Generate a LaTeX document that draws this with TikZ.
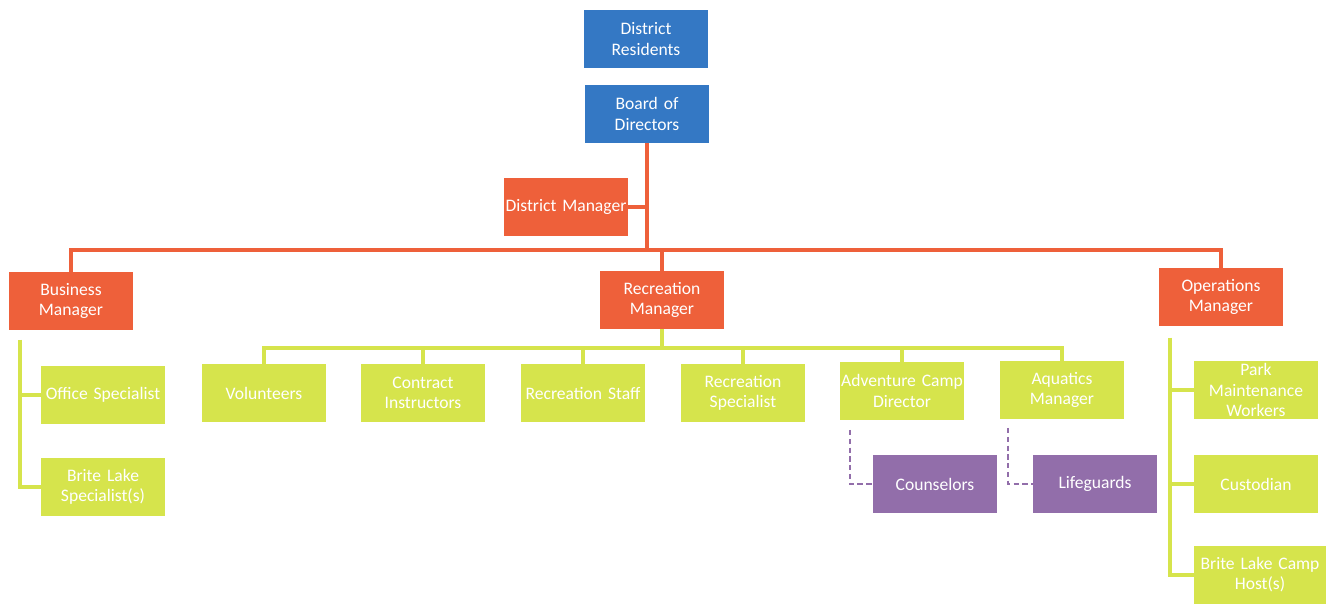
\documentclass[tikz,border=0pt]{standalone}
\usepackage{fontspec}
\setmainfont{Carlito}
\usepackage{tikz}
\usetikzlibrary{calc}
\definecolor{boardblue}{RGB}{52,120,196}
\definecolor{mgrred}{RGB}{238,96,58}
\definecolor{staffgreen}{RGB}{214,228,76}
\definecolor{subpurple}{RGB}{146,110,170}
\tikzset{
  unit/.style={draw=none, inner sep=0pt, minimum width=2.48cm, minimum height=1.16cm,
    text width=2.46cm, align=center, text=white, font=\fontsize{10}{11.5}\selectfont},
  bluebox/.style={unit, fill=boardblue},
  redbox/.style={unit, fill=mgrred},
  greenbox/.style={unit, fill=staffgreen},
  purplebox/.style={unit, fill=subpurple},
  redline/.style={draw=mgrred, line width=2pt},
  greenline/.style={draw=staffgreen, line width=2pt},
  purpleline/.style={draw=subpurple, line width=1.2pt, densely dashed}
}
\begin{document}
\begin{tikzpicture}[x=0.02cm, y=-0.02cm]
        \useasboundingbox (0,0) rectangle (1330,604);

        % top
        \node[bluebox] (residents) at (646,39) {District\\Residents};
        \node[bluebox] (board) at (647,114) {Board of\\Directors};
        \node[redbox] (dmanager) at (566,207) {District Manager};
        \coordinate (bus) at (647,250);

        % managers
        \node[redbox] (business) at (71,301) {Business\\Manager};
        \node[redbox] (recreation) at (662,300) {Recreation\\Manager};
        \node[redbox] (operations) at (1221,297) {Operations\\Manager};

        \draw[redline] (board.south) -- (bus);
        \draw[redline] (dmanager.east) -- (dmanager.east -| bus);
        \draw[redline] (business.north) |- (bus);
        \draw[redline] (operations.north) |- (bus);
        \draw[redline] (recreation.north) -- (recreation.north |- bus);

        % business
        \node[greenbox] (office) at (103,395) {Office Specialist};
        \node[greenbox] (britespec) at (103,487) {Brite Lake\\Specialist(s)};
        \coordinate (btrunk) at (20,340);
        \draw[greenline] (btrunk) |- (office.west);
        \draw[greenline] (btrunk) |- (britespec.west);

        % recreation
        \node[greenbox] (volunteers) at (264,393) {Volunteers};
        \node[greenbox] (contract) at (423,393) {Contract\\Instructors};
        \node[greenbox] (recstaff) at (583,393) {Recreation Staff};
        \node[greenbox] (recspec) at (743,393) {Recreation\\Specialist};
        \node[greenbox] (camp) at (902,391) {Adventure Camp\\Director};
        \node[greenbox] (aquatics) at (1062,390) {Aquatics\\Manager};
        \coordinate (rbus) at (662,348);
        \draw[greenline] (recreation.south) -- (rbus);
        \foreach \n in {volunteers,contract,recstaff,recspec,camp,aquatics}
          \draw[greenline] (\n.north) |- (rbus);

        \node[purplebox] (counselors) at (935,484) {Counselors};
        \node[purplebox] (lifeguards) at (1095,484) {Lifeguards};
        \coordinate (campleg) at (850,430);
        \coordinate (aquaticsleg) at (1008,428);
        \draw[purpleline] (campleg) |- (counselors.west);
        \draw[purpleline] (aquaticsleg) |- (lifeguards.west);

        % operations
        \node[greenbox] (park) at (1256,390) {Park\\Maintenance\\Workers};
        \node[greenbox] (custodian) at (1256,484) {Custodian};
        \node[greenbox, minimum width=2.64cm] (camphost) at (1260,575) {Brite Lake Camp\\Host(s)};
        \coordinate (otrunk) at (1170,338);
        \draw[greenline] (otrunk) |- (park.west);
        \draw[greenline] (otrunk) |- (custodian.west);
        \draw[greenline] (otrunk) |- (camphost.west);

    \end{tikzpicture}
\end{document}
